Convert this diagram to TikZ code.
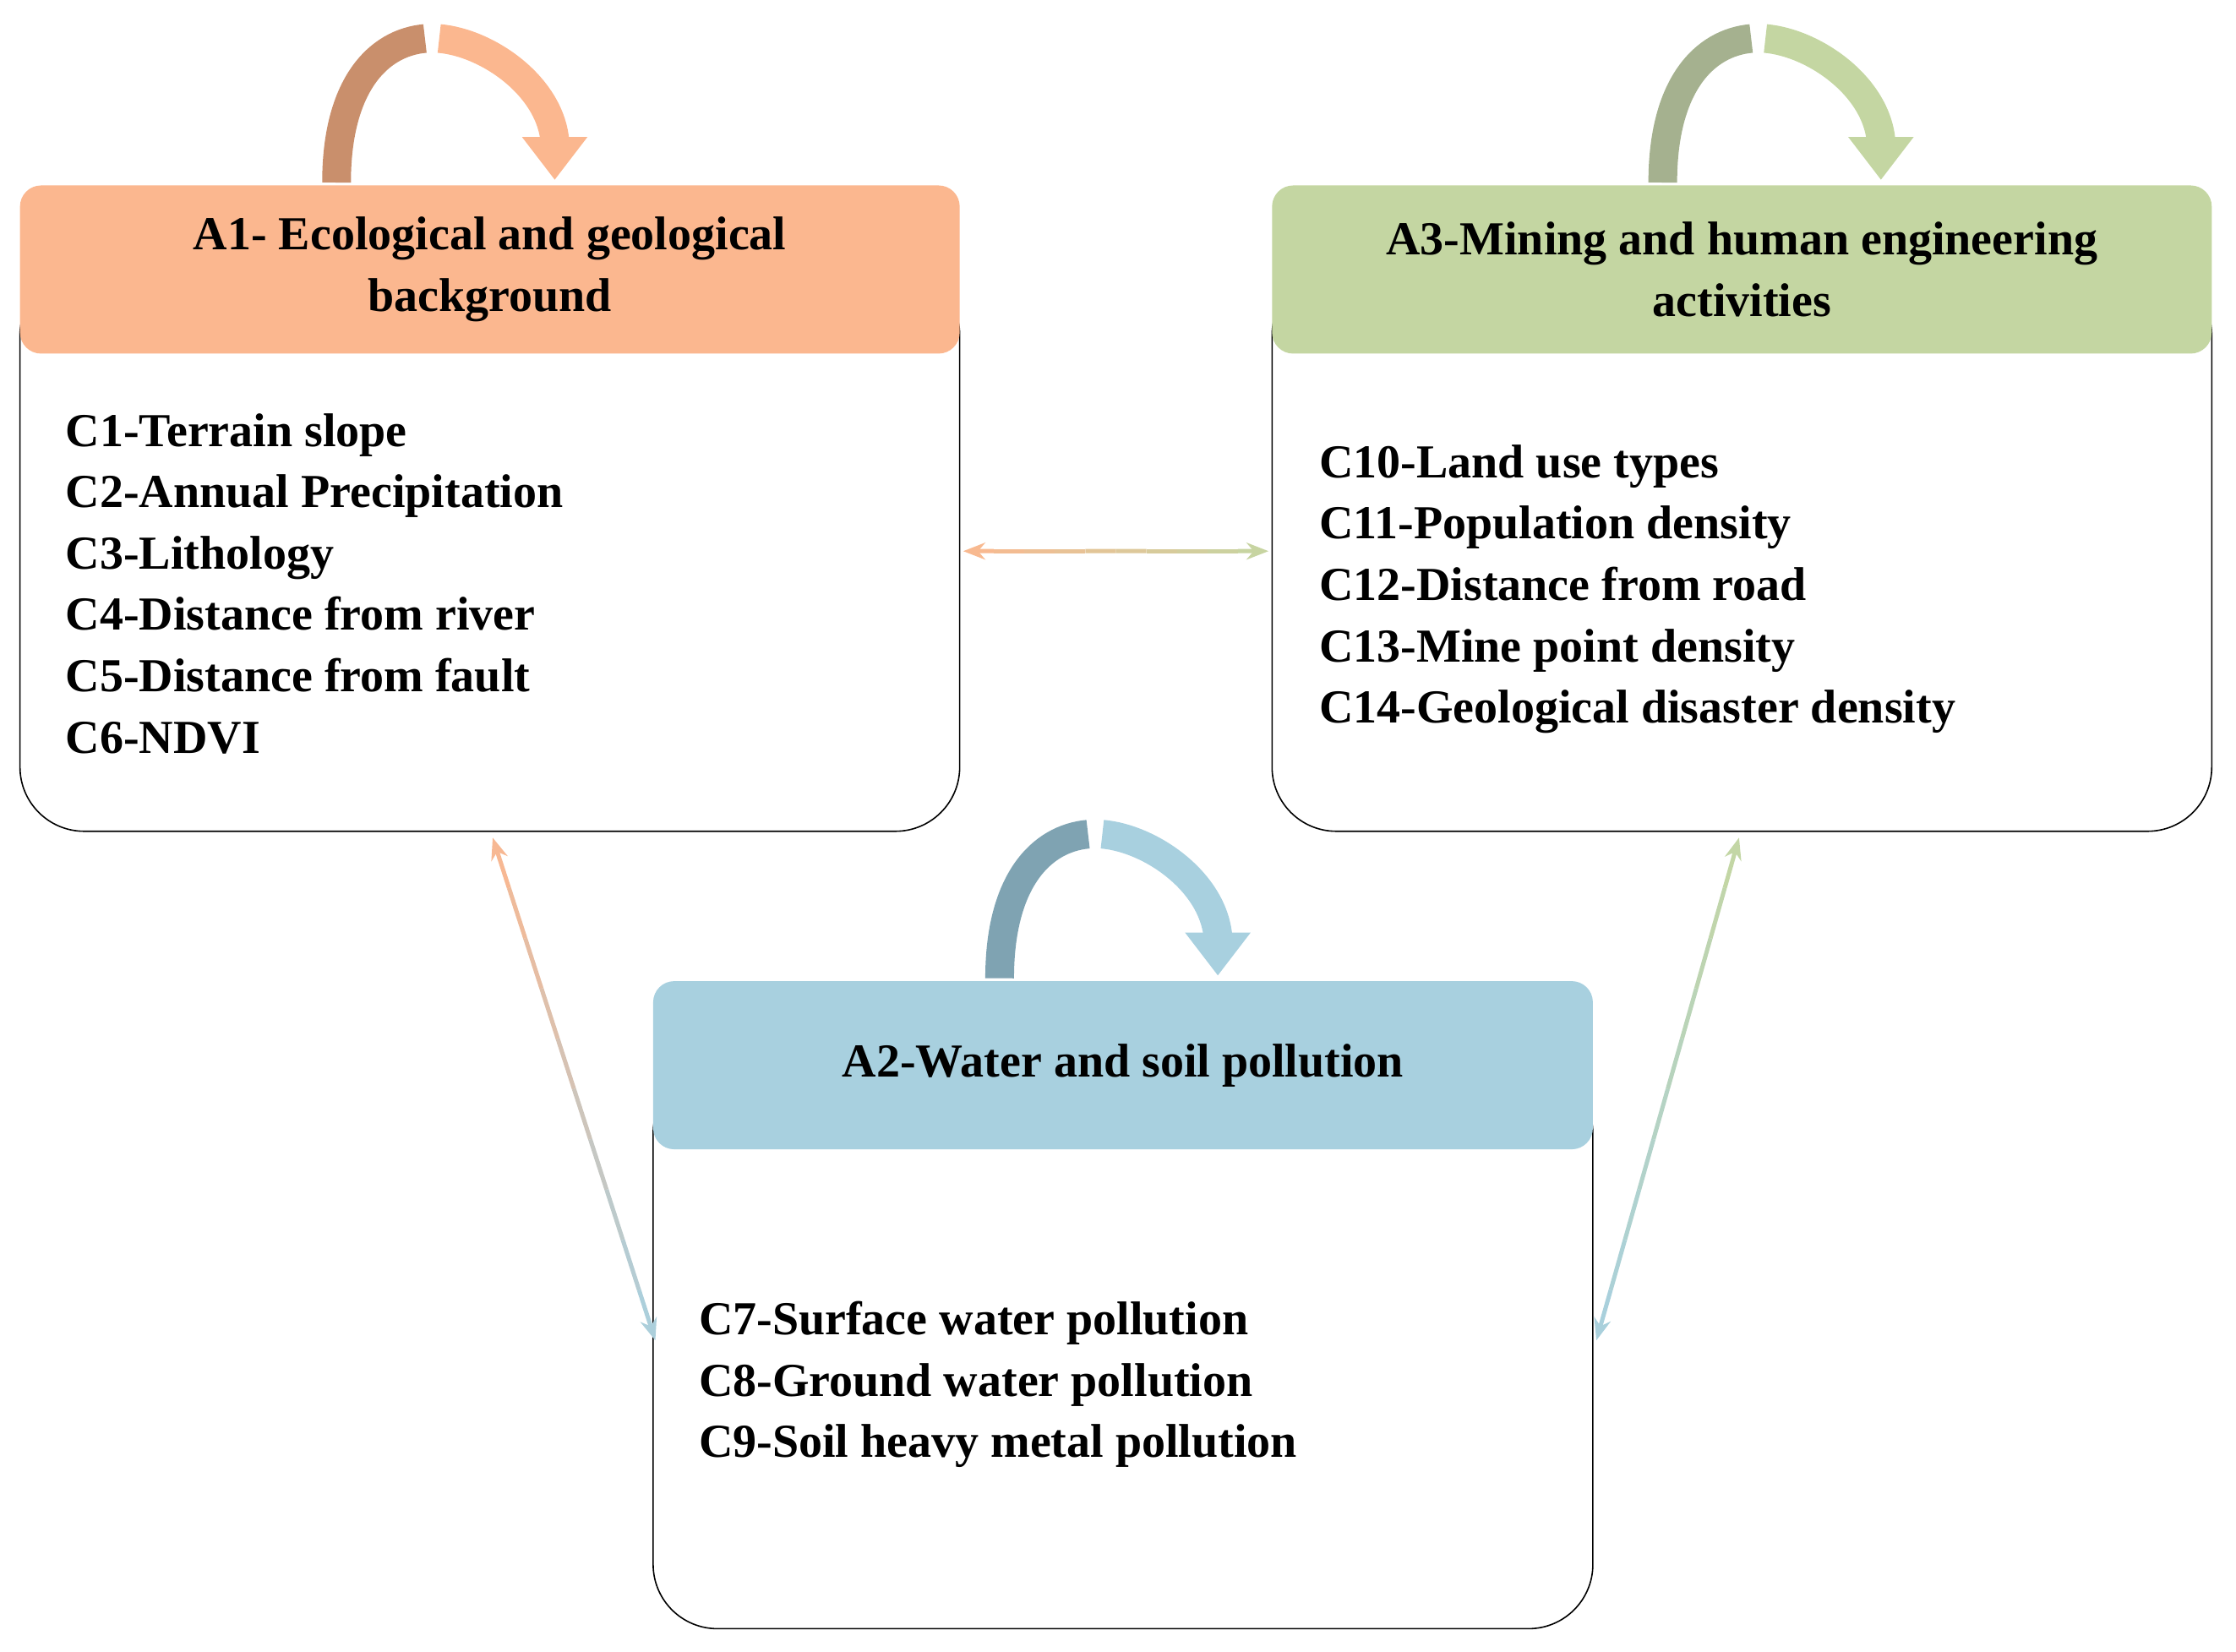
\documentclass[tikz,border=0pt]{standalone}
\usepackage{fontspec}
\setmainfont{Liberation Serif}
\usetikzlibrary{calc,arrows.meta}
\definecolor{orA}{HTML}{FBB78F}\definecolor{orD}{HTML}{C98F6C}
\definecolor{grA}{HTML}{C4D6A2}\definecolor{grD}{HTML}{A5B18F}
\definecolor{blA}{HTML}{A8D0DF}\definecolor{blD}{HTML}{7FA3B2}
\tikzset{
 bodybox/.style={draw=black,line width=1.6pt,fill=white,rounded corners=76pt,minimum width=1112pt,inner sep=0pt},
 headbox/.style={rounded corners=25pt,minimum width=1112pt,minimum height=199pt,inner sep=0pt,align=center,font=\fontsize{56}{72.6}\selectfont\bfseries},
 itemtxt/.style={anchor=base west,inner sep=0pt,font=\fontsize{56}{72.6}\selectfont\bfseries},
 leg/.style={line width=34pt,line cap=butt},
 tipstart/.style={{Stealth[length=26pt,width=20pt]}-},
 tipend/.style={-{Stealth[length=26pt,width=20pt]}},
 tipnone/.style={},
}
\newcommand\curl[3]{%
 \begin{scope}[shift={(#1)}]
  \draw[leg,#2] (236,128) .. controls (236,60) and (265,30) .. (298,27);
  \draw[leg,#3] (308,27) .. controls (342,30) and (385,60) .. (389,98);
  \fill[#3] (366,96) -- (412,96) -- (389,126) -- cycle;
 \end{scope}}
\newcommand\gradline[4]{%
 \foreach \i in {0,...,9}{%
  \pgfmathtruncatemacro\pc{100-10*\i-5}%
  \pgfmathsetmacro\sa{\i/10}\pgfmathsetmacro\sb{(\i+1)/10}%
  \ifnum\i=0 \def\tp{tipstart}\else\ifnum\i=9 \def\tp{tipend}\else\def\tp{tipnone}\fi\fi
  \draw[line width=5pt,#3!\pc!#4,\tp] ($(#1)!\sa!(#2)$) -- ($(#1)!\sb!(#2)$);
 }}
\begin{document}
\begin{tikzpicture}[x=1.6875pt,y=-1.6875pt]
\useasboundingbox (0,0) rectangle (1568,1158.5);
% bodies
\node[bodybox,minimum height=663pt] (b1) at (343.5,386.5) {};
\node[bodybox,minimum height=663pt] (b3) at (1221.5,386.5) {};
\node[bodybox,minimum height=662pt] (b2) at (787.5,946) {};
% headers
\node[headbox,fill=orA] (h1) at (343.5,189) {A1- Ecological and geological\\background};
\node[headbox,fill=grA] (h3) at (1221.5,189) {A3-Mining and human engineering\\activities};
\node[headbox,fill=blA] (h2) at (787.5,747) {A2-Water and soil pollution};
% items
\foreach \t [count=\k] in {C1-Terrain slope,C2-Annual Precipitation,C3-Lithology,C4-Distance from river,C5-Distance from fault,C6-NDVI}
 \node[itemtxt] (i1\k) at (46,313+43*\k-43) {\t};
\foreach \t [count=\k] in {C10-Land use types,C11-Population density,C12-Distance from road,C13-Mine point density,C14-Geological disaster density}
 \node[itemtxt] (i3\k) at (925,335+43*\k-43) {\t};
\foreach \t [count=\k] in {C7-Surface water pollution,C8-Ground water pollution,C9-Soil heavy metal pollution}
 \node[itemtxt] (i2\k) at (490,936+43*\k-43) {\t};
% curls
\curl{0,0}{orD}{orA}
\curl{930,0}{grD}{grA}
\curl{465,558}{blD}{blA}
% connectors
\coordinate (p1) at ($(b1.east)+(2,0)$);
\coordinate (p3) at ($(b3.west)+(-2,0)$);
\gradline{p1}{p3}{orA}{grA}
\coordinate (q1) at ($(b1.south)+(2,4)$);
\coordinate (q2) at ($(b2.west)+(2,-6)$);
\gradline{q1}{q2}{orA}{blA}
\coordinate (r3) at ($(b3.south)+(-2,4)$);
\coordinate (r2) at ($(b2.east)+(2,-6)$);
\gradline{r3}{r2}{grA}{blA}
\end{tikzpicture}
\end{document}
